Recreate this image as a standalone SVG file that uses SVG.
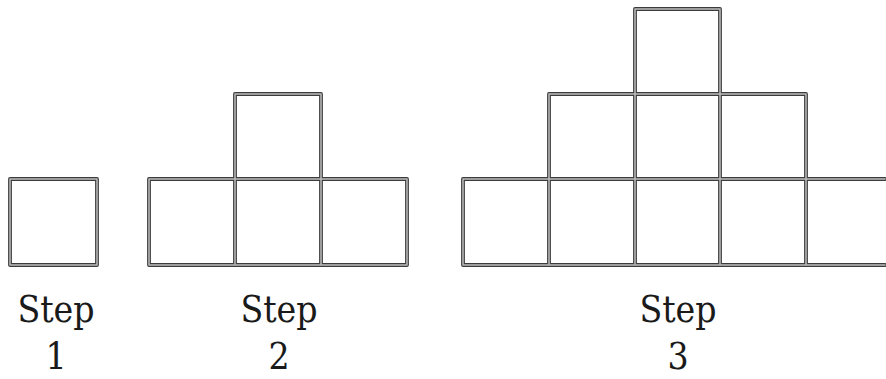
<svg xmlns="http://www.w3.org/2000/svg" xmlns:xlink="http://www.w3.org/1999/xlink" width="886" height="379" viewBox="0 0 886 379">
<style>
.o{stroke:#3c3c3c;stroke-width:3.8;stroke-linecap:round;fill:none}
.i{stroke:#bdbdbd;stroke-width:1.5;stroke-linecap:round;fill:none}
.t{font-family:"DejaVu Serif Condensed","DejaVu Serif",serif;font-stretch:condensed;font-size:37px;fill:#1a1a1a;text-anchor:middle}
</style>
<defs>
<g id="s1">
<path d="M10 179H97M10 265H97M10 179V265M97 179V265"/>
</g>
<g id="s2">
<path d="M149 179H407M149 265H407M235 94H321M149 179V265M235 94V265M321 94V265M407 179V265"/>
</g>
<g id="s3">
<path d="M635 9H720M549 94H806M463 179H885M463 265H885M463 179V265M549 94V265M635 9V265M720 9V265M806 94V265"/>
</g>
</defs>
<rect width="886" height="379" fill="#fff"/>
<g id="step1">
<use xlink:href="#s1" class="o"/><use xlink:href="#s1" class="i"/>
<text class="t" x="56" y="322">Step</text>
<text class="t" x="56" y="369">1</text>
</g>
<g id="step2">
<use xlink:href="#s2" class="o"/><use xlink:href="#s2" class="i"/>
<text class="t" x="279" y="322">Step</text>
<text class="t" x="279" y="369">2</text>
</g>
<g id="step3">
<use xlink:href="#s3" class="o"/><use xlink:href="#s3" class="i"/>
<text class="t" x="678" y="322">Step</text>
<text class="t" x="678" y="369">3</text>
</g>
</svg>
